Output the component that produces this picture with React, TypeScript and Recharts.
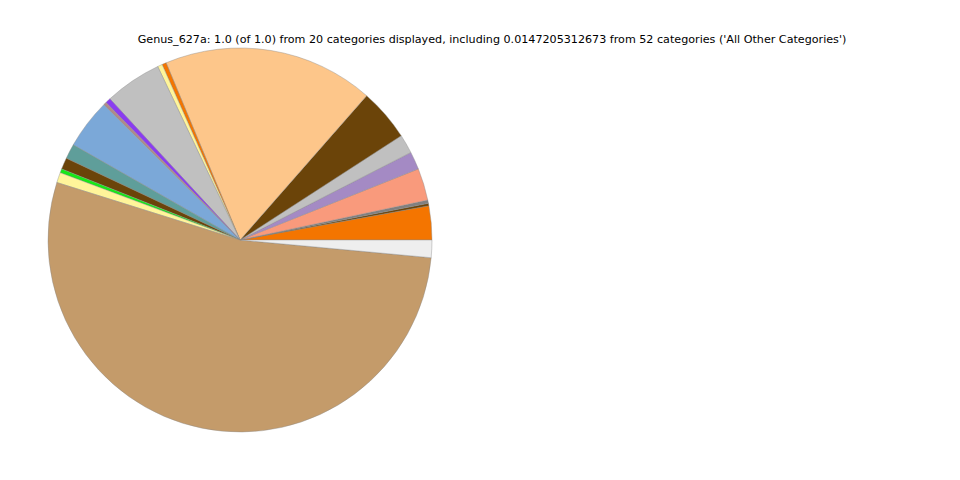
import { PieChart, Pie, Cell } from "recharts";

const categories = [
  "Genus_a", "Genus_b", "Genus_c", "Genus_d", "Genus_e", "Genus_f", "Genus_g",
  "Genus_h", "Genus_i", "Genus_j", "Genus_k", "Genus_l", "Genus_m", "Genus_n",
  "Genus_o", "Genus_p", "Genus_q", "Genus_r", "Genus_s", "All Other Categories",
];

const values = [
  2.86, 0.2, 0.28, 2.7, 1.5, 1.6, 4.4, 17.75, 0.36, 0.4,
  4.8, 0.45, 0.25, 4.2, 1.25, 0.97, 0.33, 0.86, 53.37, 1.47,
];

const COLORS = [
  "#f47500", "#6b4409", "#808080", "#f99a7c", "#a48ac4", "#c0c0c0", "#6b4409",
  "#fdc68a", "#f47500", "#fff59a", "#c0c0c0", "#8a3cf0", "#b08a8a", "#7ba8d8",
  "#5f9e9a", "#6b4409", "#17e817", "#fff59a", "#c49b6a", "#eeeeee",
];

const data = categories.map((name, i) => ({ name, value: values[i] }));

export default function App() {
  return (
    <PieChart width={960} height={480} margin={{ top: 0, right: 0, bottom: 0, left: 0 }}>
      <text
        x={484}
        y={35}
        textAnchor="middle"
        fontFamily="DejaVu Sans"
        fontSize={11.15}
        fill="#000"
      >
        Genus_627a: 1.0 (of 1.0) from 20 categories displayed, including 0.0147205312673 from 52 categories ('All Other Categories')
      </text>
      <Pie
        data={data}
        dataKey="value"
        nameKey="name"
        cx={232}
        cy={232}
        outerRadius={192}
        startAngle={0}
        endAngle={360}
        stroke="#888"
        strokeWidth={0.4}
        isAnimationActive={false}
      >
        {data.map((entry, index) => (
          <Cell key={`cell-${index}`} fill={COLORS[index % COLORS.length]} />
        ))}
      </Pie>
    </PieChart>
  );
}
